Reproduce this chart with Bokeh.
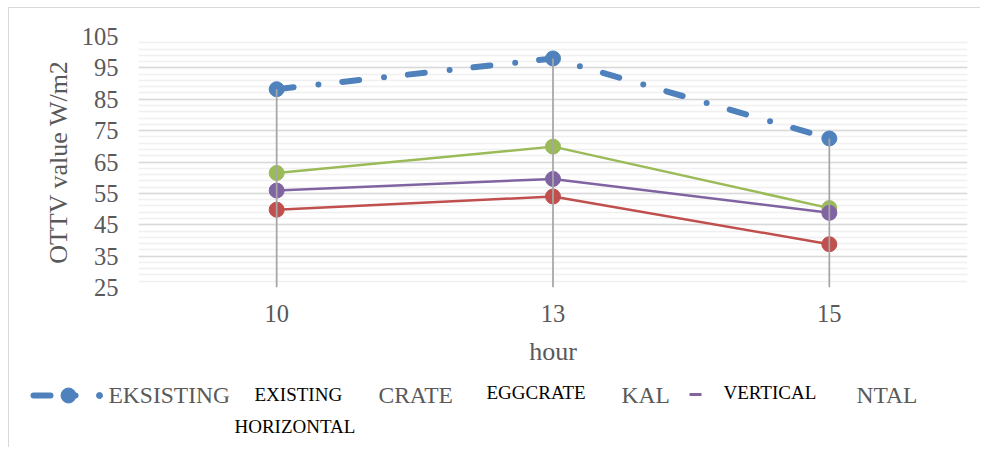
from bokeh.plotting import figure
from bokeh.models import FactorRange, Range1d, FixedTicker
from bokeh.core.properties import value
from bokeh.embed import file_html
from bokeh.resources import INLINE

# ---- data ----
hours = ["10", "13", "15"]
existing = [88.2, 98.0, 72.5]
eggcrate = [61.5, 69.9, 50.3]
vertical = [55.9, 59.6, 48.8]
horizontal = [49.8, 54.0, 38.8]

y_ticks = [25, 35, 45, 55, 65, 75, 85, 95, 105]
y_minor = [v for v in range(27, 105, 2)]

# legend texts (as they appear in the picture)
leg_big = ["EKSISTING", "CRATE", "KAL", "NTAL"]
leg_big_x = [107, 377, 620, 855]
leg_big_y = [395, 395, 395, 395]
leg_small = ["EXISTING", "EGGCRATE", "VERTICAL", "HORIZONTAL"]
leg_small_x = [253, 485, 722, 233]
leg_small_y = [395, 393, 393, 427]

FONT = "Liberation Serif"
GRAY = "#595959"
BLUE, RED, GREEN, PURPLE = "#4f81bd", "#c0504d", "#9bbb59", "#8064a2"

W = 972
H1 = 367
H2 = 73
BL, BR, BT, BB = 129, 14, 28, 88

p = figure(width=W, height=H1, x_range=FactorRange(*hours, range_padding=0),
           y_range=Range1d(25, 105), output_backend="svg", toolbar_location=None,
           min_border_left=BL, min_border_top=BT, min_border_right=BR,
           min_border_bottom=BB)
p.outline_line_color = None
p.background_fill_color = "white"
p.border_fill_color = "white"

p.yaxis.ticker = FixedTicker(ticks=y_ticks, minor_ticks=y_minor)
p.ygrid.grid_line_color = "#d9d9d9"
p.ygrid.grid_line_width = 1.5
p.ygrid.minor_grid_line_color = "#f0f0f0"
p.ygrid.minor_grid_line_width = 1.5
p.xgrid.grid_line_color = None

for ax in (p.xaxis, p.yaxis):
    ax.axis_line_color = None
    ax.major_tick_line_color = None
    ax.minor_tick_line_color = None
    ax.major_label_text_font = FONT
    ax.major_label_text_font_size = "24.5px"
    ax.major_label_text_color = GRAY
    ax.axis_label_text_font = FONT
    ax.axis_label_text_color = GRAY
    ax.axis_label_text_font_style = "normal"

p.yaxis.axis_label = "OTTV value W/m2"
p.yaxis.axis_label_text_font_size = "26px"
p.yaxis.major_label_standoff = 14
p.yaxis.axis_label_standoff = 6
p.xaxis.axis_label = "hour"
p.xaxis.axis_label_text_font_size = "26px"
p.xaxis.major_label_standoff = 11
p.xaxis.axis_label_standoff = 12

# existing: dash-dot thick
p.line(hours, existing, line_color=BLUE, line_width=6, line_dash="17 25 0 24",
       line_cap="round")
p.scatter(hours, existing, size=15, color=BLUE)
for vals, col in ((horizontal, RED), (eggcrate, GREEN), (vertical, PURPLE)):
    p.line(hours, vals, line_color=col, line_width=2.5)
    p.scatter(hours, vals, size=15, color=col)

# drop lines from highest value down to the axis
tops = [max(a, b, c, d) for a, b, c, d in zip(existing, eggcrate, vertical, horizontal)]
p.segment(x0=hours, y0=[25] * len(hours), x1=hours, y1=tops, line_color="#a6a6a6",
          line_width=1.75)

# ---- legend strip (page pixel coordinates) ----
q = figure(width=W, height=H2, x_range=Range1d(8, 8 + W),
           y_range=Range1d(8 + H1 + H2, 8 + H1),
           output_backend="svg", toolbar_location=None, min_border=0)
q.axis.visible = False
q.grid.visible = False
q.outline_line_color = None
q.border_fill_color = "white"

q.multi_line(xs=[[32, 49], [67, 74]], ys=[[396, 396], [396, 396]], line_color=BLUE,
             line_width=6, line_cap="round")
q.scatter([67], [396], size=15, color=BLUE)
q.scatter([98], [396], size=6, color=BLUE)
q.segment(x0=[688], y0=[395], x1=[700], y1=[395], line_color=PURPLE, line_width=3)

q.text(x=leg_big_x, y=leg_big_y, text=leg_big, text_font=value(FONT),
       text_font_size="23.5px", text_color=GRAY, text_baseline="middle", text_align="left")
q.text(x=leg_small_x, y=leg_small_y, text=leg_small, text_font=value(FONT),
       text_font_size="19px", text_color="black", text_baseline="middle", text_align="left")

p.styles = {"border-left": "1px solid #d9d9d9", "border-top": "1px solid #d9d9d9",
            "margin-left": "8px", "margin-top": "7px"}
q.styles = {"border-left": "1px solid #d9d9d9", "margin-left": "8px"}

open("out.html", "w").write(file_html([p, q], INLINE))
